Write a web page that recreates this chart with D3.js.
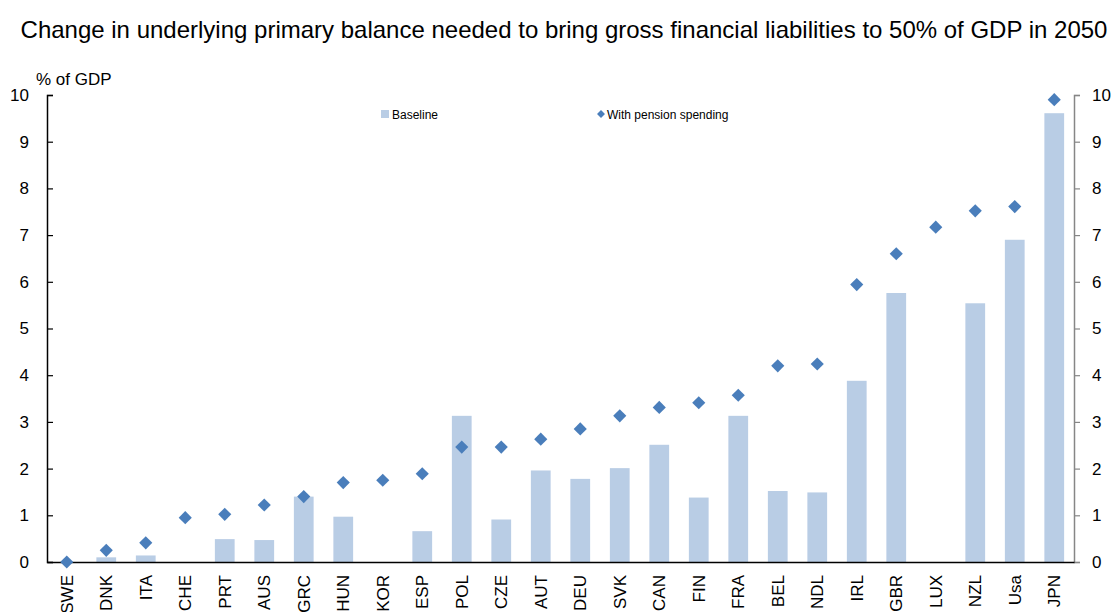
<!DOCTYPE html>
<html>
<head>
<meta charset="utf-8">
<script src="https://cdn.jsdelivr.net/npm/d3@7/dist/d3.min.js"></script>
<style>
  html, body { margin: 0; padding: 0; background: #fff; }
  svg { display: block; font-family: Arial, "Liberation Sans", sans-serif; }
</style>
</head>
<body>
<svg id="chart" width="1113" height="612"></svg>
<script>
// Countries, ordered by the pension-inclusive adjustment
const countries = ["SWE","DNK","ITA","CHE","PRT","AUS","GRC","HUN","KOR","ESP","POL","CZE","AUT",
                   "DEU","SVK","CAN","FIN","FRA","BEL","NDL","IRL","GBR","LUX","NZL","Usa","JPN"];

// Baseline change in underlying primary balance (% of GDP)
const baseline = [0, 0.10, 0.14, 0, 0.49, 0.47, 1.40, 0.97, 0, 0.66, 3.13, 0.91, 1.96,
                  1.78, 2.01, 2.51, 1.38, 3.13, 1.52, 1.49, 3.88, 5.76, 0, 5.54, 6.90, 9.61];

// Change including pension spending (% of GDP)
const withPension = [0, 0.25, 0.41, 0.95, 1.02, 1.22, 1.40, 1.70, 1.75, 1.89, 2.46, 2.46, 2.63,
                     2.85, 3.13, 3.31, 3.41, 3.57, 4.20, 4.24, 5.94, 6.60, 7.17, 7.52, 7.61, 9.90];

const yTicks = [0,1,2,3,4,5,6,7,8,9,10];

const titleText = "Change in underlying primary balance needed to bring gross financial liabilities to 50% of GDP in 2050";
const unitLabel = "% of GDP";
const legendLabels = ["Baseline", "With pension spending"];

const barColor = "#b9cde5";
const dotColor = "#4a7ebb";

const svg = d3.select("#chart");
const plotLeft = 47, plotRight = 1074, plotTop = 95, plotBottom = 562;

const x = d3.scaleBand().domain(countries).range([plotLeft, plotRight]).paddingInner(0.5).paddingOuter(0.25);
const y = d3.scaleLinear().domain([0, 10]).range([plotBottom, plotTop]);

// Title
svg.append("text")
  .attr("x", 564).attr("y", 38)
  .attr("text-anchor", "middle")
  .attr("font-size", 24)
  .attr("fill", "#000")
  .text(titleText);

// Unit label
svg.append("text")
  .attr("x", 36).attr("y", 85)
  .attr("font-size", 17)
  .text(unitLabel);

// Bars
svg.append("g").selectAll("rect")
  .data(countries)
  .join("rect")
  .attr("x", d => x(d))
  .attr("width", x.bandwidth())
  .attr("y", (d, i) => y(baseline[i]))
  .attr("height", (d, i) => y(0) - y(baseline[i]))
  .attr("fill", barColor);

// Left axis
const leftAxis = svg.append("g")
  .attr("transform", `translate(${plotLeft},0)`)
  .call(d3.axisRight(y).tickValues(yTicks).tickSize(6).tickFormat(""));
leftAxis.select(".domain").attr("stroke", "#000").attr("stroke-width", 1.5);
leftAxis.selectAll(".tick line").attr("stroke", "#000").attr("stroke-width", 1.2);
svg.append("g").selectAll("text")
  .data(yTicks)
  .join("text")
  .attr("x", 29).attr("y", d => y(d))
  .attr("dy", "0.35em")
  .attr("text-anchor", "end")
  .attr("font-size", 17)
  .text(d => d);

// Right axis
const rightAxis = svg.append("g")
  .attr("transform", `translate(${plotRight},0)`)
  .call(d3.axisRight(y).tickValues(yTicks).tickSize(6).tickPadding(12).tickSizeOuter(6));
rightAxis.select(".domain").attr("stroke", "#868686").attr("stroke-width", 1.5);
rightAxis.selectAll(".tick line").attr("stroke", "#868686").attr("stroke-width", 1.2);
rightAxis.selectAll(".tick text")
  .attr("font-size", 17)
  .attr("font-family", "Arial, 'Liberation Sans', sans-serif")
  .attr("fill", "#000");

// Category axis
const bottomAxis = svg.append("g")
  .attr("transform", `translate(0,${plotBottom})`)
  .call(d3.axisBottom(x).tickSize(0).tickFormat(""));
bottomAxis.select(".domain").attr("stroke", "#000").attr("stroke-width", 1.5);
svg.append("g").selectAll("text")
  .data(countries)
  .join("text")
  .attr("transform", d => `translate(${x(d) + x.bandwidth() / 2},575) rotate(-90)`)
  .attr("dy", "0.36em")
  .attr("text-anchor", "end")
  .attr("font-size", 17)
  .text(d => d);

// Diamonds
const diamond = d3.symbol().type(d3.symbolDiamond2).size(110);
svg.append("g").selectAll("path")
  .data(countries)
  .join("path")
  .attr("transform", (d, i) => `translate(${x(d) + x.bandwidth() / 2},${y(withPension[i])})`)
  .attr("d", diamond)
  .attr("fill", dotColor);

// Legend
const legend = svg.append("g");
legend.append("rect").attr("x", 381).attr("y", 110).attr("width", 8).attr("height", 8).attr("fill", barColor);
legend.append("text").attr("x", 392).attr("y", 118.5).attr("font-size", 12).text(legendLabels[0]);
legend.append("path")
  .attr("transform", "translate(601,114)")
  .attr("d", d3.symbol().type(d3.symbolDiamond2).size(40))
  .attr("fill", dotColor);
legend.append("text").attr("x", 607).attr("y", 118.5).attr("font-size", 12).text(legendLabels[1]);
</script>
</body>
</html>
